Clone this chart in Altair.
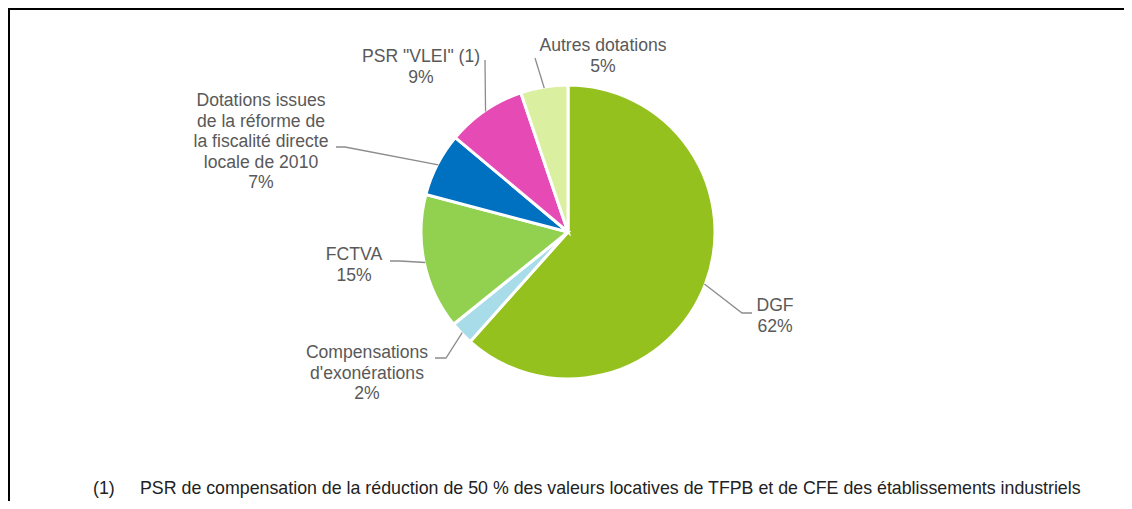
import altair as alt
import pandas as pd
import numpy as np

# ---- data ----
categories = ["DGF", "Compensations d'exonérations", "FCTVA",
              "Dotations issues de la réforme de la fiscalité directe locale de 2010",
              'PSR "VLEI" (1)', "Autres dotations"]
shares = [61.6, 2.6, 14.9, 7.0, 8.7, 5.2]
pct_labels = ["62%", "2%", "15%", "7%", "9%", "5%"]
label_texts = ["DGF", "Compensations\nd'exonérations", "FCTVA",
               "Dotations issues\nde la réforme de\nla fiscalité directe\nlocale de 2010",
               'PSR "VLEI" (1)', "Autres dotations"]
colors = ["#95C11F", "#A8DCE9", "#92D050", "#0070C0", "#E64BB5", "#DAEFA0"]
footnote_mark = "(1)"
footnote_text = ("PSR de compensation de la réduction de 50 % des valeurs locatives "
                 "de TFPB et de CFE des établissements industriels")

# ---- layout (pixels, chart coordinates; first text line centre) ----
W, H = 1116, 493
CX, CY, R = 560, 224, 147
label_pos = [(767, 298), (359, 345), (346, 247), (253, 93), (413, 49), (595, 38)]
leader_elbow = [(734, 305), (438, 350), (392, 253), (337, 139), (477, 52), (527, 50)]
leader_end = [(744, 305), (427, 350), (382, 253), (328, 139), (477, 52), (527, 50)]

pie_df = pd.DataFrame({"cat": categories, "share": shares, "idx": range(len(categories))})

lab_df = pd.DataFrame({
    "cat": categories,
    "text": [f"{t}\n{p}" for t, p in zip(label_texts, pct_labels)],
    "x": [p[0] for p in label_pos],
    "y": [p[1] for p in label_pos],
})

# leader lines start at slice mid-angle on the pie edge
frac = np.array(shares) / np.sum(shares)
mid = (np.cumsum(frac) - frac / 2) * 2 * np.pi
rows = []
for i, c in enumerate(categories):
    sx = CX + (R - 1) * np.sin(mid[i])
    sy = CY - (R - 1) * np.cos(mid[i])
    rows.append({"cat": c, "step": 0, "x": sx, "y": sy})
    rows.append({"cat": c, "step": 1, "x": leader_elbow[i][0], "y": leader_elbow[i][1]})
    rows.append({"cat": c, "step": 2, "x": leader_end[i][0], "y": leader_end[i][1]})
lead_df = pd.DataFrame(rows)

foot_df = pd.DataFrame({"text": [footnote_mark, footnote_text], "x": [85, 132], "y": [481, 481]})

xs = alt.Scale(domain=[0, W], range=[0, W])
ys = alt.Scale(domain=[0, H], range=[0, H])

pie = alt.Chart(pie_df).mark_arc(outerRadius=R, stroke="white", strokeWidth=3).encode(
    theta=alt.Theta("share:Q", stack=True),
    order=alt.Order("idx:Q"),
    color=alt.Color("cat:N", scale=alt.Scale(domain=categories, range=colors), legend=None),
    x=alt.value(CX), y=alt.value(CY),
)

leaders = alt.Chart(lead_df).mark_line(color="#8c8c8c", strokeWidth=1.3).encode(
    x=alt.X("x:Q", scale=xs, axis=None),
    y=alt.Y("y:Q", scale=ys, axis=None),
    detail="cat:N",
    order="step:Q",
)

labels = alt.Chart(lab_df).mark_text(
    align="center", baseline="middle", lineBreak="\n", lineHeight=20.5,
    fontSize=17.6, font="Liberation Sans", color="#595959"
).encode(
    x=alt.X("x:Q", scale=xs, axis=None),
    y=alt.Y("y:Q", scale=ys, axis=None),
    text="text:N",
)

foot = alt.Chart(foot_df).mark_text(
    align="left", baseline="middle", fontSize=17.8, font="Liberation Sans", color="#222222"
).encode(
    x=alt.X("x:Q", scale=xs, axis=None),
    y=alt.Y("y:Q", scale=ys, axis=None),
    text="text:N",
)

frame_top = alt.Chart(pie_df).mark_rule(color="black", strokeWidth=2).encode(
    x=alt.value(0), x2=alt.value(W), y=alt.value(1))
frame_left = alt.Chart(pie_df).mark_rule(color="black", strokeWidth=2).encode(
    x=alt.value(1), y=alt.value(0), y2=alt.value(H))

chart = alt.layer(frame_top, frame_left, pie, leaders, labels, foot).properties(
    width=W, height=H, autosize=alt.AutoSizeParams(type="none"), padding=0
).configure_view(stroke=None)

chart.save("out.html", embed_options={"renderer": "svg", "actions": False})
